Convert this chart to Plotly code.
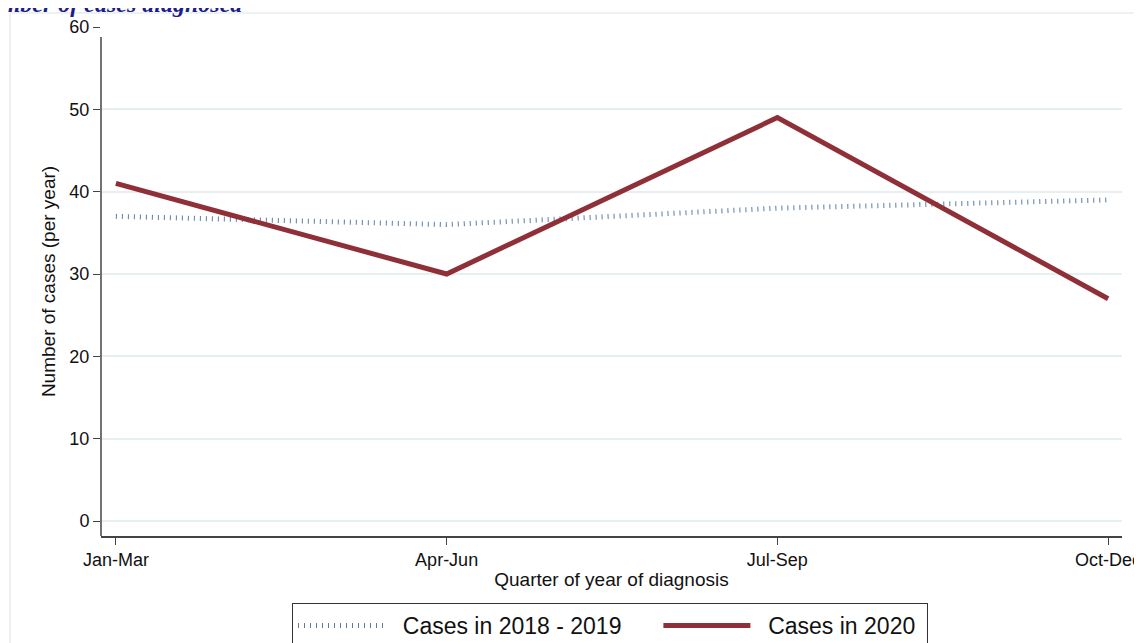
import plotly.graph_objects as go

quarters = ["Jan-Mar", "Apr-Jun", "Jul-Sep", "Oct-Dec"]
cases_2018_2019 = [37, 36, 38, 39]
cases_2020 = [41, 30, 49, 27]
y_ticks = [0, 10, 20, 30, 40, 50, 60]

# page body has an 8px margin, so the figure starts at screen (8, 8)
OFF = 8
W, H = 1134, 635
L, R, T, B = 93, 20, 19, 107
pw = W - L - R
ph = H - T - B

def px(sx):
    return (sx - OFF - L) / pw

def py(sy):
    return (H - B - (sy - OFF)) / ph

NB = "\u00a0"

fig = go.Figure()
fig.add_trace(go.Scatter(
    x=list(range(4)), y=cases_2018_2019, mode="lines",
    name=NB * 2 + "Cases in 2018 - 2019" + NB * 5,
    line=dict(color="#5b7c9e", width=5, dash="1px,5px"),
))
fig.add_trace(go.Scatter(
    x=list(range(4)), y=cases_2020, mode="lines",
    name=NB * 2 + "Cases in 2020" + NB,
    line=dict(color="#8f2f37", width=5),
))

font_family = "Liberation Sans, Arial, sans-serif"

fig.update_layout(
    width=W, height=H,
    margin=dict(l=L, r=R, t=T, b=B, pad=0, autoexpand=False),
    paper_bgcolor="white", plot_bgcolor="white",
    font=dict(family=font_family, color="#111111"),
    xaxis=dict(
        range=[-0.045, 3.042],
        tickmode="array", tickvals=list(range(4)), ticktext=quarters,
        ticks="outside", ticklen=7, tickcolor="#444444", tickwidth=1,
        showline=True, linecolor="#444444", linewidth=1.5,
        showgrid=False, zeroline=False,
        tickfont=dict(size=18),
        title=dict(text="Quarter of year of diagnosis", font=dict(size=19), standoff=3),
    ),
    yaxis=dict(
        range=[-1.82, 60.0],
        tickmode="array", tickvals=y_ticks,
        ticks="outside", ticklen=7, tickcolor="#444444", tickwidth=1,
        showline=False,
        showgrid=True, gridcolor="#e6eff2", gridwidth=1.5,
        zeroline=False,
        tickfont=dict(size=18),
        title=dict(text="Number of cases (per year)", font=dict(size=19), standoff=8),
    ),
    legend=dict(
        orientation="h",
        x=px(292), y=py(603), xanchor="left", yanchor="top",
        bordercolor="#333333", borderwidth=1,
        font=dict(size=23, color="#111111"),
        itemwidth=87,
        bgcolor="white",
        tracegroupgap=0,
    ),
    showlegend=True,
)

# y axis line (starts slightly below the top gridline, as in reference)
fig.add_shape(type="line", xref="paper", yref="y", x0=0, x1=0, y0=58.8, y1=-1.82,
              line=dict(color="#444444", width=1.5))

# outer light frame
fig.add_shape(type="line", xref="paper", yref="paper", x0=px(10), x1=px(10), y0=py(13), y1=py(700),
              line=dict(color="#e6ecec", width=1.5))
fig.add_shape(type="line", xref="paper", yref="paper", x0=px(10), x1=px(1160), y0=py(13), y1=py(13),
              line=dict(color="#e6ecec", width=1.5))

# title (partially cut off at top-left)
fig.add_annotation(
    text="<b><i>Number of cases diagnosed</i></b>", xref="paper", yref="paper",
    x=px(245), y=py(4), xanchor="right", yanchor="middle", showarrow=False,
    font=dict(family="Liberation Serif, Times New Roman, serif", size=24, color="#1c1c8a"),
)

fig.write_html("out.html")
